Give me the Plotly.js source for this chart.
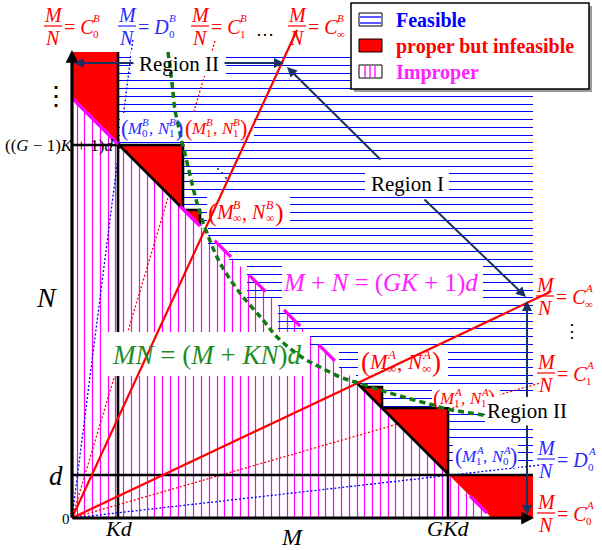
<!DOCTYPE html>
<html><head><meta charset="utf-8">
<script src="https://cdn.plot.ly/plotly-3.0.1.min.js"></script>
<style>html,body{margin:0;padding:0;background:#fff}#chart{width:602px;height:550px}</style>
</head><body><div id="chart"></div>
<script>
// ---------- DATA (M horizontal, N vertical; origin at (0,0)) ----------
const improperM = [0, 0, 420];
const improperN = [0, 420, 0];
const feasibleM = [46, 461, 461, 376, 376, 310, 310, 284, 284, 267, 267, 238, 238, 206, 206, 175, 175, 157, 157, 136, 136, 128, 128, 111, 111, 46];
const feasibleN = [463, 463, 50, 50, 110, 110, 131, 131, 146, 146, 170, 170, 186, 186, 218, 218, 256, 256, 272, 272, 292, 292, 308, 308, 374, 374];
const infeasibleM = [0, 46, 46, 0, null, 46, 111, 111, null, 111, 128, 128, null, 289, 310, 310, null, 310, 376, 376, null, 376, 461, 461, 420];
const infeasibleN = [466, 466, 374, 420, null, 374, 374, 309, null, 309, 309, 292, null, 131, 131, 110, null, 110, 110, 44, null, 44, 44, 0, 0];
const boundaryM = [0, 111, 111, null, 46, 111, null, 111, 128, 128, null, 289, 310, 310, 376, 376, null, 283, 376, null, 0, 461, null, 46, 46];
const boundaryN = [373, 373, 309, null, 374, 309, null, 308, 308, 292, null, 131, 131, 110, 110, 0, null, 137, 44, null, 43, 43, null, 0, 466];
const solidRayM = [225, 478];       // M/N = C_inf^B , C_inf^A
const solidRayN = [488, 226];
const redDotRayM = [143, 468];      // M/N = C_1^B , C_1^A
const redDotRayN = [477, 135];
const blueDotRayM = [61, 468];      // M/N = D_0^B , D_0^A
const blueDotRayN = [479, 53];
const curveM = [96, 100, 103, 108, 111, 112, 125, 135, 148, 168, 191, 205, 231, 248, 268, 283, 308, 335, 361, 375, 411, 458];
const curveN = [466, 435, 408, 385, 371, 368, 315, 285, 255, 225, 198, 181, 160, 151, 141, 136, 128, 120, 113, 109, 103, 96];
const edgeM = [0, 46, null, 111, 128, null, 398, 415];   // M+N=(GK+1)d solid pieces
const edgeN = [420, 374, null, 309, 292, null, 22, 5];
const edgeDashM = [108, 266];
const edgeDashN = [312, 154];

// ---------- helpers ----------
const OX = 72, OY = 518;
const SERIF = 'Liberation Serif, Times New Roman, serif';
const RED = '#ff0000', BLUE = '#2a2aff', MAG = '#ff22ff', GREEN = '#1e8c1e', NAVY = '#1a3262';
const ann = [], shapes = [];
function txt(x, y, text, size, color, opts) {
  ann.push(Object.assign({xref:'x', yref:'y', x:x-OX, y:OY-y, text:text, showarrow:false,
    font:{family:SERIF, size:size, color:color}, xanchor:'center', yanchor:'middle',
    borderpad:0, borderwidth:0}, opts || {}));
}
function arrow(x1, y1, x2, y2, color, width, size) {
  ann.push({xref:'x', yref:'y', axref:'x', ayref:'y', x:x2-OX, y:OY-y2, ax:x1-OX, ay:OY-y1,
    text:'', showarrow:true, arrowhead:2, arrowsize:size||1, arrowwidth:width, arrowcolor:color,
    standoff:0, startstandoff:0});
}
function line(x0, y0, x1, y1, color, width) {
  shapes.push({type:'line', layer:'above', xref:'x', yref:'y', x0:x0-OX, y0:OY-y0, x1:x1-OX, y1:OY-y1,
    line:{color:color, width:width}});
}
function rect(x0, y0, x1, y1, fill, lc, lw) {
  shapes.push({type:'rect', layer:'above', xref:'x', yref:'y', x0:x0-OX, y0:OY-y0, x1:x1-OX, y1:OY-y1,
    fillcolor:fill, line:{color:lc, width:lw}});
}
function frac(cx, by, color, letter, sub, sup) {
  const f = 20;
  txt(cx, by-11, '<i>M</i>', f, color);
  txt(cx, by+12, '<i>N</i>', f, color);
  line(cx-9, by, cx+9, by, color, 1.2);
  txt(cx+11, by+1, '= <i>'+letter+'</i>', f, color, {xanchor:'left'});
  const sx = cx + (letter === 'D' ? 42 : 40);
  txt(sx, by-8, '<i>'+sup+'</i>', 11, color, {xanchor:'left'});
  txt(sx, by+8, sub, 11, color, {xanchor:'left'});
}
function sw(s) { return s === '∞' ? 0.78 : 0.55; }
function pair(x0, yc, color, f, s1, s2, sup) {
  const ss = Math.round(f*0.62);
  let x = x0;
  txt(x, yc, '(', f*1.3, color, {xanchor:'left'}); x += 0.38*f;
  txt(x, yc, '<i>M</i>', f, color, {xanchor:'left'}); x += 0.86*f;
  txt(x, yc-0.36*f, '<i>'+sup+'</i>', ss, color, {xanchor:'left'});
  txt(x, yc+0.3*f, s1, ss, color, {xanchor:'left'});
  x += Math.max(sw(s1), 0.62)*ss;
  txt(x, yc+0.05*f, ',', f, color, {xanchor:'left'}); x += 0.45*f;
  txt(x, yc, '<i>N</i>', f, color, {xanchor:'left'}); x += 0.74*f;
  txt(x, yc-0.36*f, '<i>'+sup+'</i>', ss, color, {xanchor:'left'});
  txt(x, yc+0.3*f, s2, ss, color, {xanchor:'left'});
  x += Math.max(sw(s2), 0.62)*ss;
  txt(x, yc, ')', f*1.3, color, {xanchor:'left'});
}
function ray(ms, ns) {
  const x = [], y = [];
  ms.forEach((m, i) => { x.push(0, m, null); y.push(0, ns[i], null); });
  return {x, y};
}
// hatch a polygon region with evenly spaced lines (a fill style, like a pattern)
function hatch(pm, pn, dir, start, step) {
  const xs = [], ys = [], n = pm.length;
  for (let k = 0; k < 200; k++) {
    const c = Math.round(start + k*step) + 0.5;           // screen pixel line position
    const v = dir === 'h' ? OY - c : c - OX;               // data coordinate of hatch line
    const cuts = [];
    for (let i = 0; i < n; i++) {
      const a = i, b = (i+1) % n;
      const ua = dir === 'h' ? pn[a] : pm[a], ub = dir === 'h' ? pn[b] : pm[b];
      const wa = dir === 'h' ? pm[a] : pn[a], wb = dir === 'h' ? pm[b] : pn[b];
      if ((ua <= v && ub > v) || (ub <= v && ua > v)) cuts.push(wa + (v-ua)*(wb-wa)/(ub-ua));
    }
    cuts.sort((p, q) => p - q);
    for (let j = 0; j + 1 < cuts.length; j += 2) {
      if (dir === 'h') { xs.push(cuts[j], cuts[j+1], null); ys.push(v, v, null); }
      else { xs.push(v, v, null); ys.push(cuts[j], cuts[j+1], null); }
    }
  }
  return {x: xs, y: ys};
}

// white boxes behind labels [x0, x1, y0, y1] in picture pixels
const maskBoxes = [[131,226,52,76],[365,449,172,196],[282,483,263,299],[101,309,332,376],
  [358,448,346,378],[207,290,195,228],[120,254,113,142],[432,500,388,407],[453,518,443,468]];
const maskX = [], maskY = [];
maskBoxes.forEach(b => {
  maskX.push(b[0]-OX, b[1]-OX, b[1]-OX, b[0]-OX, b[0]-OX, null);
  maskY.push(OY-b[2], OY-b[2], OY-b[3], OY-b[3], OY-b[2], null);
});

// ---------- traces ----------
const T = [];
const hi = hatch(improperM, improperN, 'v', 76.5, 7.78);
const hf = hatch(feasibleM, feasibleN, 'h', 57, 7.75);
T.push({x:hi.x, y:hi.y, mode:'lines', line:{color:'#ff00ff', width:1.2}, hoverinfo:'skip'});
T.push({x:hf.x, y:hf.y, mode:'lines', line:{color:'#0000ff', width:1.2}, hoverinfo:'skip'});
T.push({x:infeasibleM, y:infeasibleN, mode:'lines', line:{width:0}, fill:'toself', fillcolor:RED, hoverinfo:'skip'});
const rd = ray(redDotRayM, redDotRayN), bd = ray(blueDotRayM, blueDotRayN), sr = ray(solidRayM, solidRayN);
T.push({x:rd.x, y:rd.y, mode:'lines', line:{color:RED, width:1.3, dash:'2px,2px'}});
T.push({x:bd.x, y:bd.y, mode:'lines', line:{color:'#0000ff', width:1.3, dash:'2px,2px'}});
T.push({x:boundaryM, y:boundaryN, mode:'lines', line:{color:'#000', width:2.6}});
T.push({x:maskX, y:maskY, mode:'lines', line:{width:0}, fill:'toself', fillcolor:'#fff', hoverinfo:'skip'});
T.push({x:sr.x, y:sr.y, mode:'lines', line:{color:RED, width:2.2}});
T.push({x:edgeM, y:edgeN, mode:'lines', line:{color:'#ff00ff', width:3.2}});
T.push({x:edgeDashM, y:edgeDashN, mode:'lines', line:{color:'#ff00ff', width:3.2, dash:'23px,26px'}});
T.push({x:curveM, y:curveN, mode:'lines', line:{color:'#0f7a0f', width:3.5, dash:'6px,4px', shape:'spline'}});

// ---------- axes arrows ----------
arrow(72, 519, 72, 50, '#000', 3.2, 0.8);
arrow(71, 518, 534, 518, '#000', 3.2, 0.8);

// ---------- region labels and arrows ----------
txt(179, 64, 'Region II', 21, '#000');
arrow(135, 63, 74, 63, NAVY, 2, 1);
arrow(223, 63, 284, 63, NAVY, 2, 1);
txt(407, 184, 'Region I', 21, '#000');
arrow(382, 161, 287, 67, NAVY, 2, 1);
arrow(423, 198, 526, 297, NAVY, 2, 1);
arrow(527, 399, 527, 301, NAVY, 2, 1);
arrow(527, 424, 527, 515, NAVY, 2, 1);

// ---------- equations ----------
txt(380, 283, '<i>M</i> + <i>N</i> = (<i>GK</i> + 1)<i>d</i>', 25, MAG);
txt(206, 355, '<i>MN</i> = (<i>M</i> + <i>KN</i>)<i>d</i>', 27, GREEN);

// ---------- axis labels ----------
txt(46, 297, '<i>N</i>', 28, '#000');
txt(56, 476, '<i>d</i>', 27, '#000');
txt(66, 519, '0', 15, '#000');
txt(119, 528, '<i>Kd</i>', 22, '#000');
txt(292, 537, '<i>M</i>', 24, '#000');
txt(448, 528, '<i>GKd</i>', 22, '#000');
txt(59, 145, '((<i>G</i> − 1)<i>K</i> + 1)<i>d</i>', 17, '#000');
txt(56, 96, '⋮', 26, '#000');
txt(572, 331, '⋮', 18, '#000');
txt(265, 30, '…', 18, '#000');
txt(222, 173, '⋱', 12, '#000');

// ---------- ratio labels ----------
frac(53, 26, RED, 'C', '0', 'B');
frac(127, 26, BLUE, 'D', '0', 'B');
frac(200, 26, RED, 'C', '1', 'B');
frac(297, 26, RED, 'C', '∞', 'B');
frac(545, 296, RED, 'C', '∞', 'A');
frac(546, 373, RED, 'C', '1', 'A');
frac(546, 459, BLUE, 'D', '0', 'A');
frac(546, 513, RED, 'C', '0', 'A');

// ---------- corner points ----------
pair(121, 128, BLUE, 17, '0', '1', 'B');
pair(185, 128, RED, 17, '1', '1', 'B');
pair(208, 212, RED, 20, '∞', '∞', 'B');
pair(361, 362, RED, 21, '∞', '∞', 'A');
pair(433, 398, RED, 17, '1', '1', 'A');
pair(455, 456, BLUE, 17, '1', '0', 'A');

txt(527, 411, 'Region II', 21, '#000', {bgcolor:'#fff', borderpad:2});

// ---------- legend ----------
rect(354, 6, 592, 92, '#9a9a9a', '#9a9a9a', 0);
rect(351, 3, 589, 89, '#fff', '#000', 1.5);
rect(359, 13, 382, 26, '#fff', '#000', 1);
line(360, 17, 381, 17, '#0000ff', 1.3);
line(360, 23, 381, 23, '#0000ff', 1.3);
rect(359, 39, 382, 52, RED, '#000', 1);
rect(359, 65, 382, 78, '#fff', '#000', 1);
line(365, 66, 365, 77, '#ff00ff', 1.3);
line(370, 66, 370, 77, '#ff00ff', 1.3);
line(375, 66, 375, 77, '#ff00ff', 1.3);
txt(396, 20, '<b>Feasible</b>', 20, '#0000ff', {xanchor:'left'});
txt(396, 46, '<b>proper but infeasible</b>', 20, RED, {xanchor:'left'});
txt(396, 72, '<b>Improper</b>', 20, MAG, {xanchor:'left'});

const layout = {
  width:602, height:550, margin:{l:0, r:0, t:0, b:0},
  paper_bgcolor:'#fff', plot_bgcolor:'#fff', showlegend:false,
  xaxis:{range:[-OX, 602-OX], visible:false, fixedrange:true},
  yaxis:{range:[OY-550, OY], visible:false, fixedrange:true},
  annotations:ann, shapes:shapes
};
Plotly.newPlot('chart', T, layout, {staticPlot:true});
</script></body></html>
